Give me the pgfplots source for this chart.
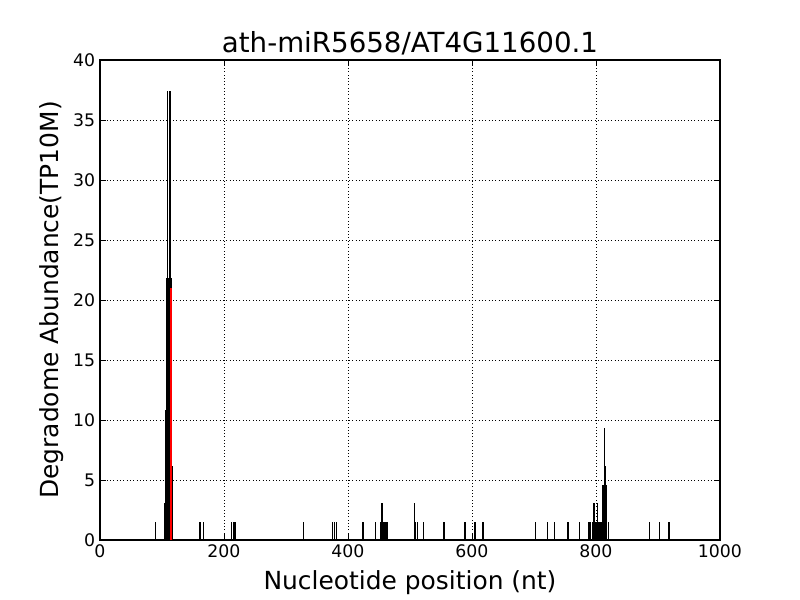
\documentclass[border=0pt]{standalone}
\usepackage{pgfplots}
\pgfplotsset{compat=1.18}
\usepackage{fontspec}
\setmainfont{DejaVu Sans}
\begin{document}
\begin{tikzpicture}
\useasboundingbox (-1in,-0.6in) rectangle (7in,5.4in);
\begin{axis}[
  scale only axis,
  width=6.2in, height=4.8in,
  at={(0,0)}, anchor=south west,
  xmin=0, xmax=1000, ymin=0, ymax=40,
  xtick={0,200,400,600,800,1000},
  ytick={0,5,10,15,20,25,30,35,40},
  scaled ticks=false,
  xticklabel style={/pgf/number format/1000 sep={}},
  tick align=inside,
  tick pos=both,
  major tick length=4pt,
  grid=major,
  grid style={black, dotted, line width=0.6pt},
  axis line style={black, line width=0.8pt},
  tick style={black, line width=0.7pt},
  /pgf/number format/assume math mode=true,
  ticklabel style={font=\fontsize{12.5}{14}\selectfont},
  title={ath-miR5658/AT4G11600.1},
  title style={font=\fontsize{20}{24}\selectfont, yshift=-6pt},
  xlabel={Nucleotide position (nt)},
  ylabel={Degradome Abundance(TP10M)},
  label style={font=\fontsize{18}{22}\selectfont},
  xlabel style={yshift=-2pt},
  ylabel style={yshift=0pt},
]
\addplot[ycomb, black, line width=1pt, mark=none] coordinates {
(90,1.52)
(104,3.05) (105,3.05) (106,10.85) (107,21.8) (108,21.8) (109,37.4) (110,21.8)
(111,21.8) (112,37.4) (113,37.4) (114,37.4) (115,21.8) (116,6.2)
(161,1.52) (167,1.52) (212,1.52) (215,1.52) (218,1.52) (328,1.52)
(375,1.52) (378,1.52) (381,1.52) (423,1.52) (425,1.52) (444,1.52)
(453,1.52) (455,3.05) (458,1.52) (461,1.52) (464,1.52)
(507,3.05) (508,1.52) (512,1.52) (522,1.52) (555,1.52) (589,1.52)
(605,1.52) (618,1.52) (702,1.52) (722,1.52) (733,1.52) (755,1.52)
(773,1.52) (789,1.52) (791,1.52) (794,1.52) (797,3.05) (800,1.52)
(802,3.05) (805,1.52) (808,1.52) (811,4.58) (812,4.58) (813,4.58)
(814,9.3) (815,6.17) (816,4.58) (817,4.58) (820,1.52)
(886,1.52) (902,1.52) (918,1.52)
};
\addplot[ycomb, red, line width=1.4pt, mark=none] coordinates {(114,21.0)};
\end{axis}
\end{tikzpicture}
\end{document}
